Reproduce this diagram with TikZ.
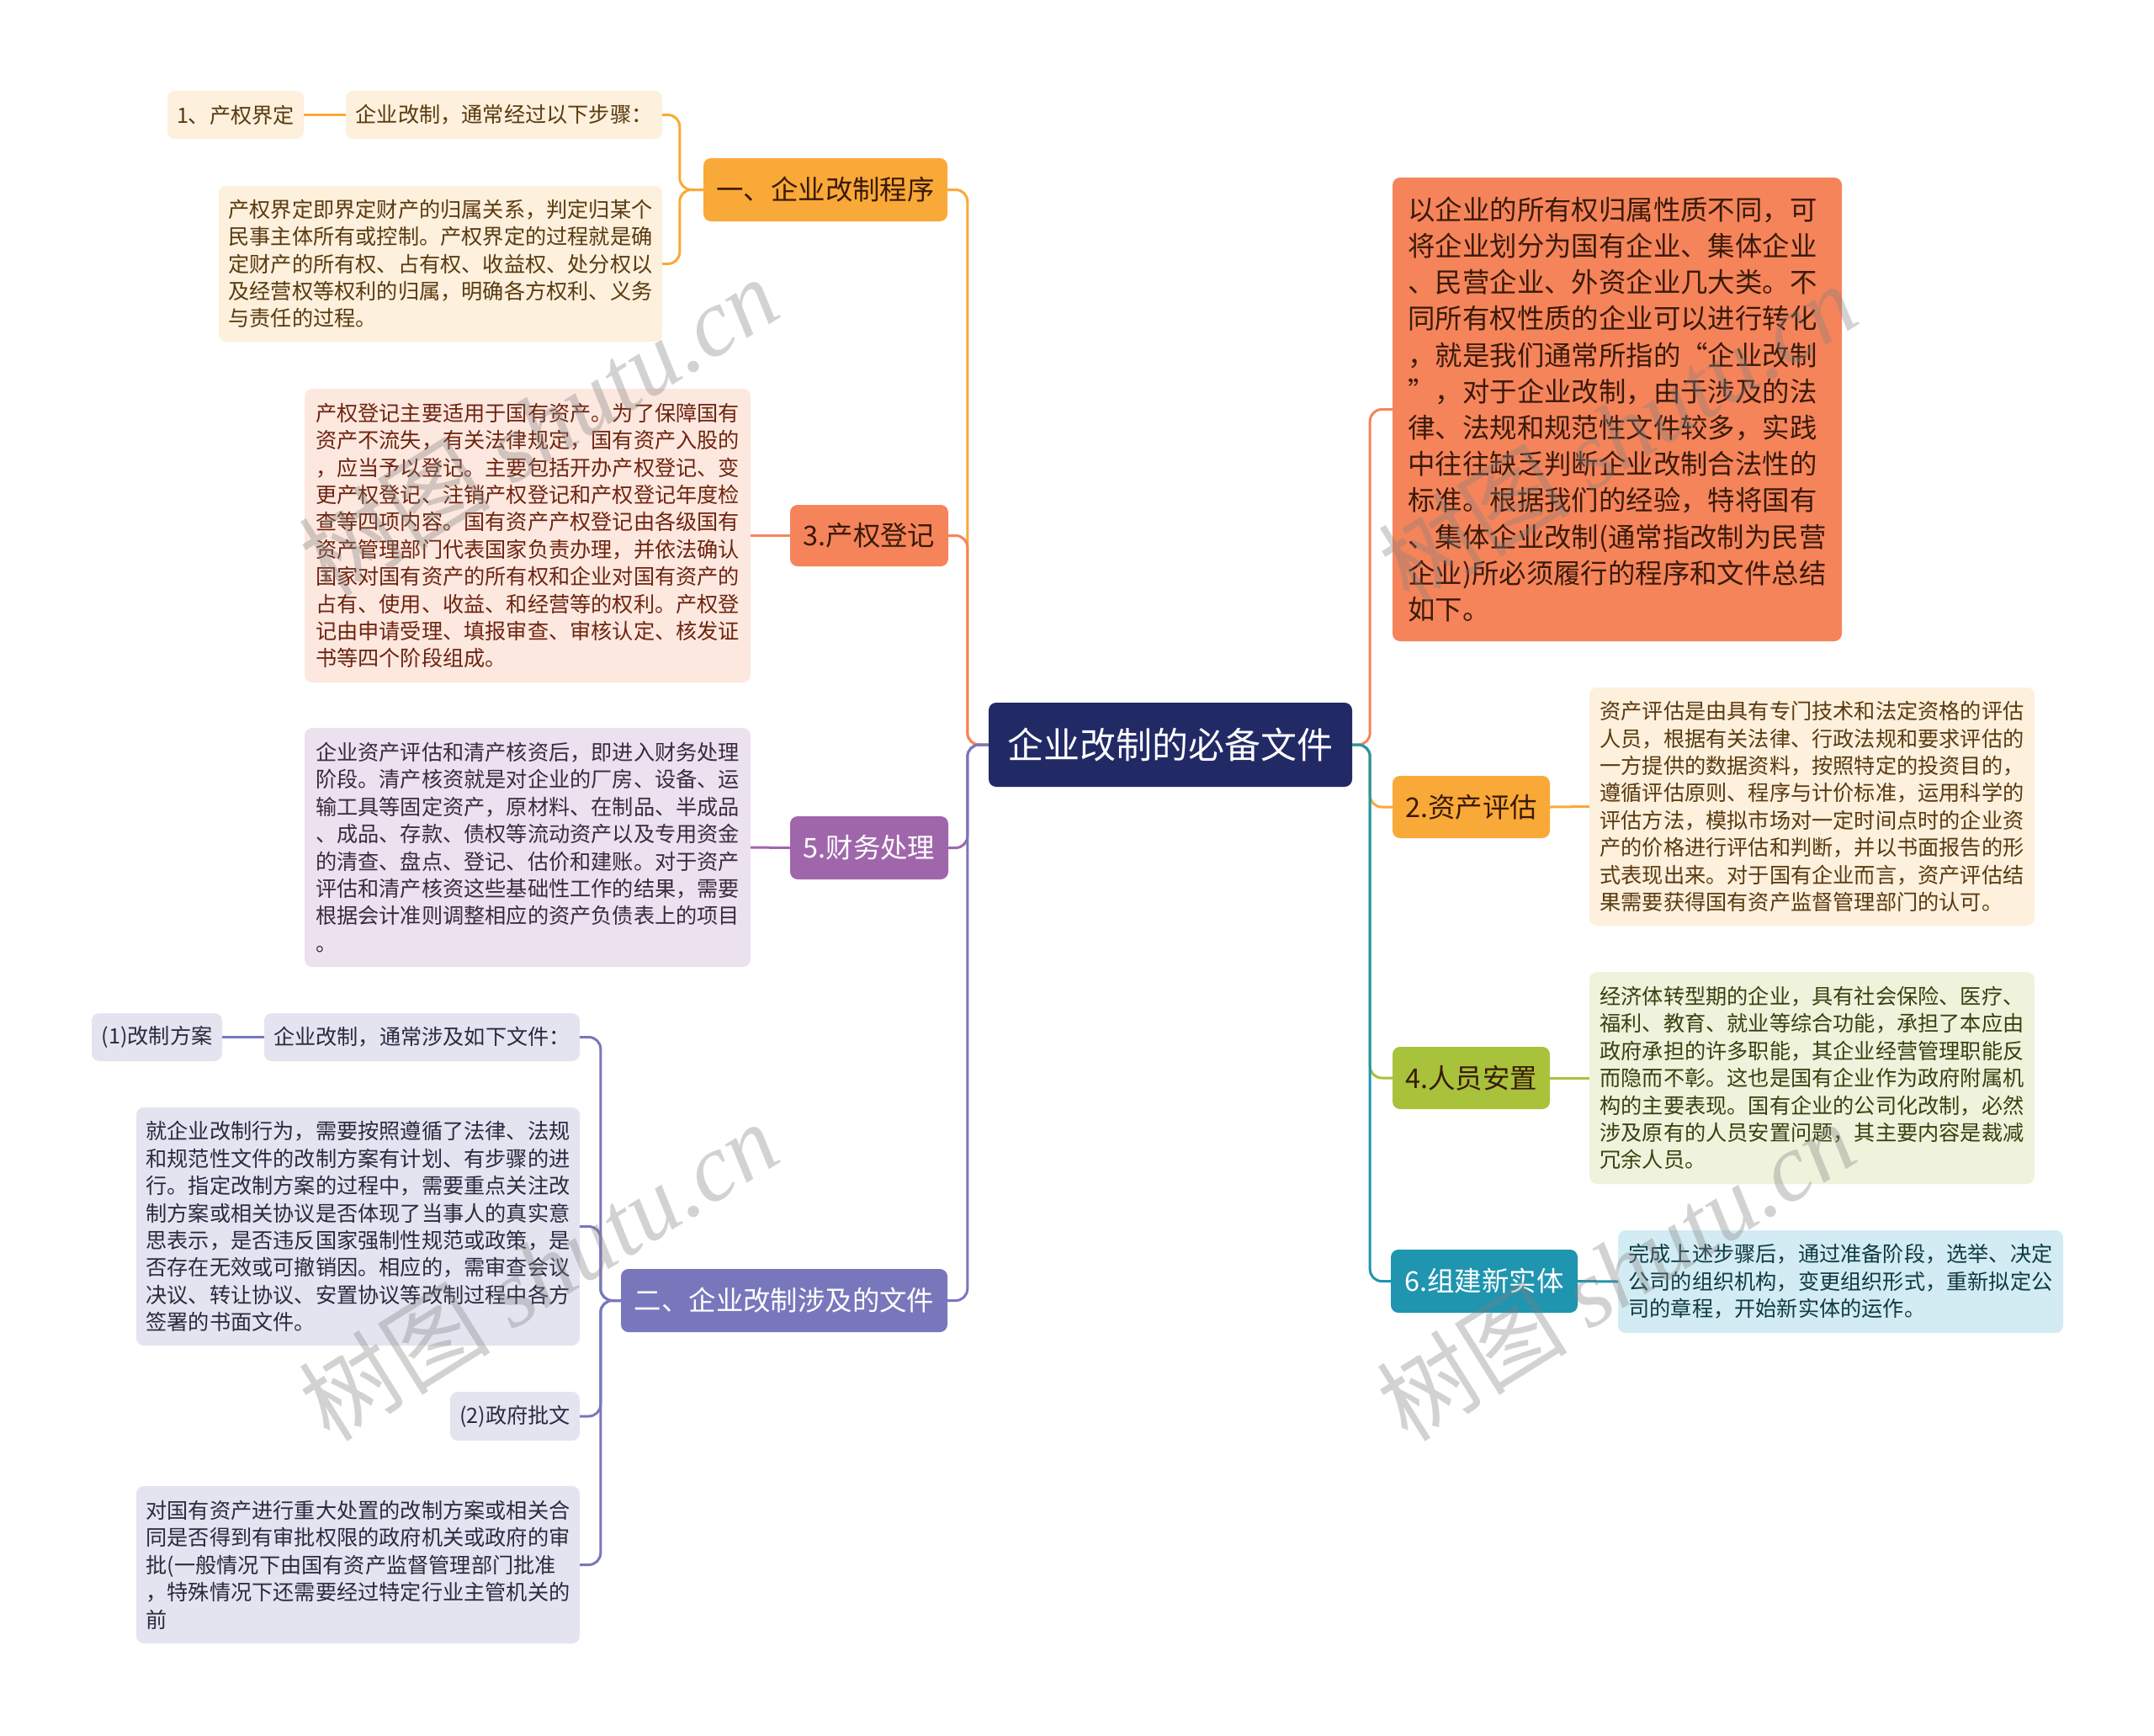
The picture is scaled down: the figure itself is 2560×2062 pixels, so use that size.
\documentclass[tikz,border=0pt]{standalone}
\usepackage{fontspec}
\setmainfont{Noto Sans CJK SC}
\newfontfamily\wmlatin{Liberation Serif}
\newcommand\descfont{\fontsize{25.2}{32.4}\selectfont}
\newcommand\bigdescfont{\fontsize{32.4}{43.2}\selectfont}
\newcommand\mainfont{\fontsize{32.4}{40}\selectfont}
\newcommand\rootfont{\fontsize{43}{50}\selectfont}
\definecolor{rootc}{HTML}{222A66}
\definecolor{amber}{HTML}{F9A937}
\definecolor{coral}{HTML}{F5845B}
\definecolor{purp}{HTML}{A066AB}
\definecolor{slate}{HTML}{7977BC}
\definecolor{lime}{HTML}{A8C23B}
\definecolor{teal}{HTML}{1F95B0}
\definecolor{cream}{HTML}{FDF0DC}
\definecolor{peach}{HTML}{FDE8DF}
\definecolor{lav}{HTML}{ECE1EF}
\definecolor{lslate}{HTML}{E4E4F1}
\definecolor{lgreen}{HTML}{EFF3DC}
\definecolor{lblue}{HTML}{D3ECF3}
\definecolor{brownt}{HTML}{5A3A10}
\definecolor{redt}{HTML}{6E2410}
\definecolor{lavt}{HTML}{3C2A40}
\definecolor{slatet}{HTML}{2A2A40}
\definecolor{greent}{HTML}{3A4010}
\definecolor{bluet}{HTML}{0F3A44}
\definecolor{darkt}{HTML}{3A1A0A}
\tikzset{
  bx/.style={rounded corners=9pt, inner sep=0pt, align=left},
  desc/.style={bx, font=\descfont},
  mainnode/.style={bx, font=\mainfont},
  conn/.style={line width=3pt, rounded corners=14pt},
  wm/.style={text=gray, opacity=0.35, rotate=32, font=\fontsize{114}{114}\selectfont}
}
\begin{document}
\begin{tikzpicture}[x=1pt,y=-1pt]
\useasboundingbox[fill=white] (0,0) rectangle (2560,2062);

% root
\node[bx, fill=rootc, text=white, font=\rootfont, minimum width=432, minimum height=100] (root) at (1391,885) {企业改制的必备文件};

% left branches
\node[mainnode, fill=amber, text=darkt, minimum width=290, minimum height=75] (b1) at (981,225.5) {一、企业改制程序};
\node[desc, fill=cream, text=brownt, minimum width=376, minimum height=57] (c11) at (599,136.5) {企业改制，通常经过以下步骤：};
\node[desc, fill=cream, text=brownt, minimum width=162, minimum height=57] (c111) at (280,136.5) {1、产权界定};
\node[desc, fill=cream, text=brownt, minimum width=527, minimum height=185] (c12) at (523.5,313.5) {产权界定即界定财产的归属关系，判定归某个\\民事主体所有或控制。产权界定的过程就是确\\定财产的所有权、占有权、收益权、处分权以\\及经营权等权利的归属，明确各方权利、义务\\与责任的过程。};

\node[mainnode, fill=coral, text=darkt, minimum width=188, minimum height=73] (b3) at (1033,636.5) {3.产权登记};
\node[desc, fill=peach, text=redt, minimum width=530, minimum height=349] (c31) at (627,636.5) {产权登记主要适用于国有资产。为了保障国有\\资产不流失，有关法律规定，国有资产入股的\\，应当予以登记。主要包括开办产权登记、变\\更产权登记、注销产权登记和产权登记年度检\\查等四项内容。国有资产产权登记由各级国有\\资产管理部门代表国家负责办理，并依法确认\\国家对国有资产的所有权和企业对国有资产的\\占有、使用、收益、和经营等的权利。产权登\\记由申请受理、填报审查、审核认定、核发证\\书等四个阶段组成。};

\node[mainnode, fill=purp, text=white, minimum width=188, minimum height=75] (b5) at (1033,1007.5) {5.财务处理};
\node[desc, fill=lav, text=lavt, minimum width=530, minimum height=284] (c51) at (627,1007) {企业资产评估和清产核资后，即进入财务处理\\阶段。清产核资就是对企业的厂房、设备、运\\输工具等固定资产，原材料、在制品、半成品\\、成品、存款、债权等流动资产以及专用资金\\的清查、盘点、登记、估价和建账。对于资产\\评估和清产核资这些基础性工作的结果，需要\\根据会计准则调整相应的资产负债表上的项目\\。};

\node[mainnode, fill=slate, text=white, minimum width=388, minimum height=75] (b2) at (932,1545.5) {二、企业改制涉及的文件};
\node[desc, fill=lslate, text=slatet, minimum width=375, minimum height=57] (c21) at (501.5,1232.5) {企业改制，通常涉及如下文件：};
\node[desc, fill=lslate, text=slatet, minimum width=155, minimum height=57] (c211) at (186.5,1232.5) {(1)改制方案};
\node[desc, fill=lslate, text=slatet, minimum width=527, minimum height=283] (c22) at (425.5,1457.5) {就企业改制行为，需要按照遵循了法律、法规\\和规范性文件的改制方案有计划、有步骤的进\\行。指定改制方案的过程中，需要重点关注改\\制方案或相关协议是否体现了当事人的真实意\\思表示，是否违反国家强制性规范或政策，是\\否存在无效或可撤销因。相应的，需审查会议\\决议、转让协议、安置协议等改制过程中各方\\签署的书面文件。};
\node[desc, fill=lslate, text=slatet, minimum width=154, minimum height=58] (c23) at (612,1683) {(2)政府批文};
\node[desc, fill=lslate, text=slatet, minimum width=527, minimum height=187] (c24) at (425.5,1859.5) {对国有资产进行重大处置的改制方案或相关合\\同是否得到有审批权限的政府机关或政府的审\\批(一般情况下由国有资产监督管理部门批准\\，特殊情况下还需要经过特定行业主管机关的\\前};

% right branches
\node[bx, font=\bigdescfont, fill=coral, text=darkt, minimum width=534, minimum height=551] (r1) at (1922,486.5) {以企业的所有权归属性质不同，可\\将企业划分为国有企业、集体企业\\、民营企业、外资企业几大类。不\\同所有权性质的企业可以进行转化\\，就是我们通常所指的“企业改制\\”，对于企业改制，由于涉及的法\\律、法规和规范性文件较多，实践\\中往往缺乏判断企业改制合法性的\\标准。根据我们的经验，特将国有\\、集体企业改制(通常指改制为民营\\企业)所必须履行的程序和文件总结\\如下。};

\node[mainnode, fill=amber, text=darkt, minimum width=187, minimum height=74] (r2) at (1748.5,959) {2.资产评估};
\node[desc, fill=cream, text=brownt, minimum width=529, minimum height=283] (r21) at (2153.5,958.5) {资产评估是由具有专门技术和法定资格的评估\\人员，根据有关法律、行政法规和要求评估的\\一方提供的数据资料，按照特定的投资目的，\\遵循评估原则、程序与计价标准，运用科学的\\评估方法，模拟市场对一定时间点时的企业资\\产的价格进行评估和判断，并以书面报告的形\\式表现出来。对于国有企业而言，资产评估结\\果需要获得国有资产监督管理部门的认可。};

\node[mainnode, fill=lime, text=darkt, minimum width=187, minimum height=74] (r4) at (1748.5,1281) {4.人员安置};
\node[desc, fill=lgreen, text=greent, minimum width=529, minimum height=252] (r41) at (2153.5,1281) {经济体转型期的企业，具有社会保险、医疗、\\福利、教育、就业等综合功能，承担了本应由\\政府承担的许多职能，其企业经营管理职能反\\而隐而不彰。这也是国有企业作为政府附属机\\构的主要表现。国有企业的公司化改制，必然\\涉及原有的人员安置问题，其主要内容是裁减\\冗余人员。};

\node[mainnode, fill=teal, text=white, minimum width=222, minimum height=75] (r6) at (1764,1522.5) {6.组建新实体};
\node[desc, fill=lblue, text=bluet, minimum width=529, minimum height=122] (r61) at (2187.5,1523) {完成上述步骤后，通过准备阶段，选举、决定\\公司的组织机构，变更组织形式，重新拟定公\\司的章程，开始新实体的运作。};

% connectors root -> left (drawn in branch order)
\draw[conn, amber] (root.west) -- ++(-25,0) |- (b1.east);
\draw[conn, coral] (root.west) -- ++(-25,0) |- (b3.east);
\draw[conn, purp] (root.west) -- ++(-25,0) |- (b5.east);
\draw[conn, slate] (root.west) -- ++(-25,0) |- (b2.east);
% connectors root -> right (drawn in branch order)
\draw[conn, coral] (root.east) -- ++(21,0) |- (r1.west);
\draw[conn, amber] (root.east) -- ++(21,0) |- (r2.west);
\draw[conn, lime] (root.east) -- ++(21,0) |- (r4.west);
\draw[conn, teal] (root.east) -- ++(21,0) |- (r6.west);

% sub connectors
\draw[conn, amber] (b1.west) -- ++(-28,0) |- (c11.east);
\draw[conn, amber] (b1.west) -- ++(-28,0) |- (c12.east);
\draw[line width=3pt, amber] (c11.west) -- (c111.east);
\draw[line width=3pt, coral] (b3.west) -- (c31.east);
\draw[line width=3pt, purp] (b5.west) -- (c51.east);
\draw[conn, slate] (b2.west) -- ++(-24,0) |- (c21.east);
\draw[conn, slate] (b2.west) -- ++(-24,0) |- (c22.east);
\draw[conn, slate] (b2.west) -- ++(-24,0) |- (c23.east);
\draw[conn, slate] (b2.west) -- ++(-24,0) |- (c24.east);
\draw[line width=3pt, slate] (c21.west) -- (c211.east);
\draw[line width=3pt, amber] (r2.east) -- (r21.west);
\draw[line width=3pt, lime] (r4.east) -- (r41.west);
\draw[line width=3pt, teal] (r6.east) -- (r61.west);

% watermarks
\node[wm] (w1) at (640,506) {树图 {\wmlatin\itshape shutu.cn}};
\node[wm] (w2) at (640,1510) {树图 {\wmlatin\itshape shutu.cn}};
\node[wm] (w3) at (1922,514) {树图 {\wmlatin\itshape shutu.cn}};
\node[wm] (w4) at (1920,1510) {树图 {\wmlatin\itshape shutu.cn}};
\end{tikzpicture}
\end{document}
